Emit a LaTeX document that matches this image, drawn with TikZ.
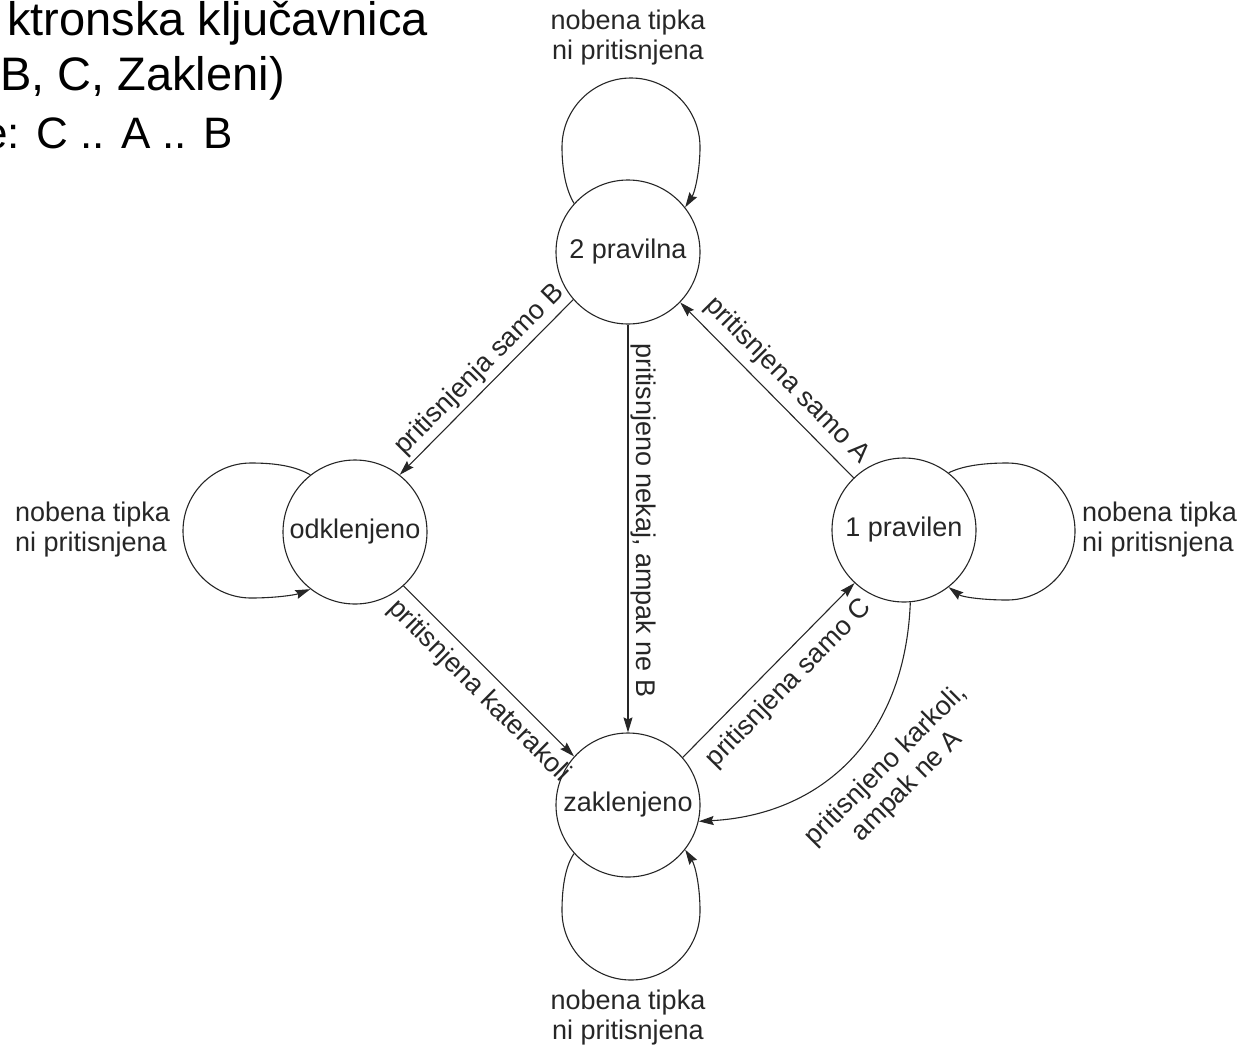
\documentclass[tikz,border=0pt]{standalone}
\usepackage{fontspec}
\setmainfont{Liberation Sans}
\usetikzlibrary{arrows.meta}
\begin{document}
\begin{tikzpicture}[x=1pt,y=-1pt,
  state/.style={circle, draw=black!85, line width=1.1pt, minimum size=144pt,
    inner sep=0pt, font=\fontsize{27}{30}\selectfont, text=black!85},
  trans/.style={draw=black!85, line width=1.1pt,
    -{Stealth[length=15pt,width=9pt,inset=2pt]}},
  lbl/.style={font=\fontsize{27}{30}\selectfont, text=black!85, inner sep=4pt},
  title/.style={font=\fontsize{47}{55}\selectfont, anchor=base east, inner sep=0pt}
]
\useasboundingbox (0,0) rectangle (1242,1047);

% heading lines
\node[title] (t1) at (428,35) {ktronska ključavnica};
\node[title] (t2) at (285,90) {B, C, Zakleni)};
\node[title, font=\fontsize{44}{52}\selectfont] (t3) at (233,148) {e: C .. A .. B};

% states
\node[state] (p2)  at (628,252) {2 pravilna};
\node[state] (odk) at (355,532) {odklenjeno};
\node[state] (p1)  at (904,530) {1 pravilen};
\node[state] (zak) at (628,805) {zaklenjeno};

% self loops
\draw[trans] (p2.138) .. controls (566,190) and (562,170) .. (562,147)
  .. controls (562,109) and (593,78) .. (631,78)
  .. controls (669,78) and (700,109) .. (700,147)
  .. controls (700,170) and (695,192) .. (p2.38);
\draw[trans] (zak.222) .. controls (566,865) and (562,885) .. (562,911)
  .. controls (562,949) and (593,980) .. (631,980)
  .. controls (669,980) and (700,949) .. (700,911)
  .. controls (700,885) and (695,865) .. (zak.322);
\draw[trans] (odk.128) .. controls (295,466) and (275,463) .. (251,463)
  .. controls (214,463) and (183,493) .. (183,531)
  .. controls (183,568) and (214,598) .. (251,598)
  .. controls (275,598) and (295,595) .. (odk.232);
\draw[trans] (p1.52) .. controls (962,466) and (983,463) .. (1007,463)
  .. controls (1045,463) and (1075,493) .. (1075,531)
  .. controls (1075,569) and (1045,600) .. (1007,600)
  .. controls (983,600) and (962,597) .. (p1.308);

\node[lbl, align=center] (l2) at (628,38) {nobena tipka\\ni pritisnjena};
\node[lbl, align=left, anchor=west, inner sep=0pt] (lo) at (15,530) {nobena tipka\\ni pritisnjena};
\node[lbl, align=left, anchor=west, inner sep=0pt] (l1) at (1082,530) {nobena tipka\\ni pritisnjena};
\node[lbl, align=center] (lz) at (628,1018) {nobena tipka\\ni pritisnjena};

% transitions
\draw[trans] (p2.221) -- node[lbl, sloped, above, pos=0.47] {pritisnjenja samo B} (odk.52);
\draw[trans] (p2.south) -- node[lbl, rotate=-90, anchor=south, inner sep=2pt, pos=0.48] {pritisnjeno nekaj, ampak ne B} (zak.north);
\draw[trans] (p1.134) -- node[lbl, sloped, above, inner sep=8pt, pos=0.47] {pritisnjena samo A} (p2.316);
\draw[trans] (odk.312) -- node[lbl, sloped, below, inner sep=8pt, pos=0.53] {pritisnjena katerakoli} (zak.138);
\draw[trans] (zak.41) -- node[lbl, sloped, below, inner sep=11pt, pos=0.52] {pritisnjena samo C} (p1.227);
\draw[trans] (p1.275) .. controls (905,740) and (820,815) .. (zak.347);
\node[lbl, rotate=45, align=center] (kk) at (897,776) {pritisnjeno karkoli,\\ampak ne A};
\end{tikzpicture}
\end{document}
